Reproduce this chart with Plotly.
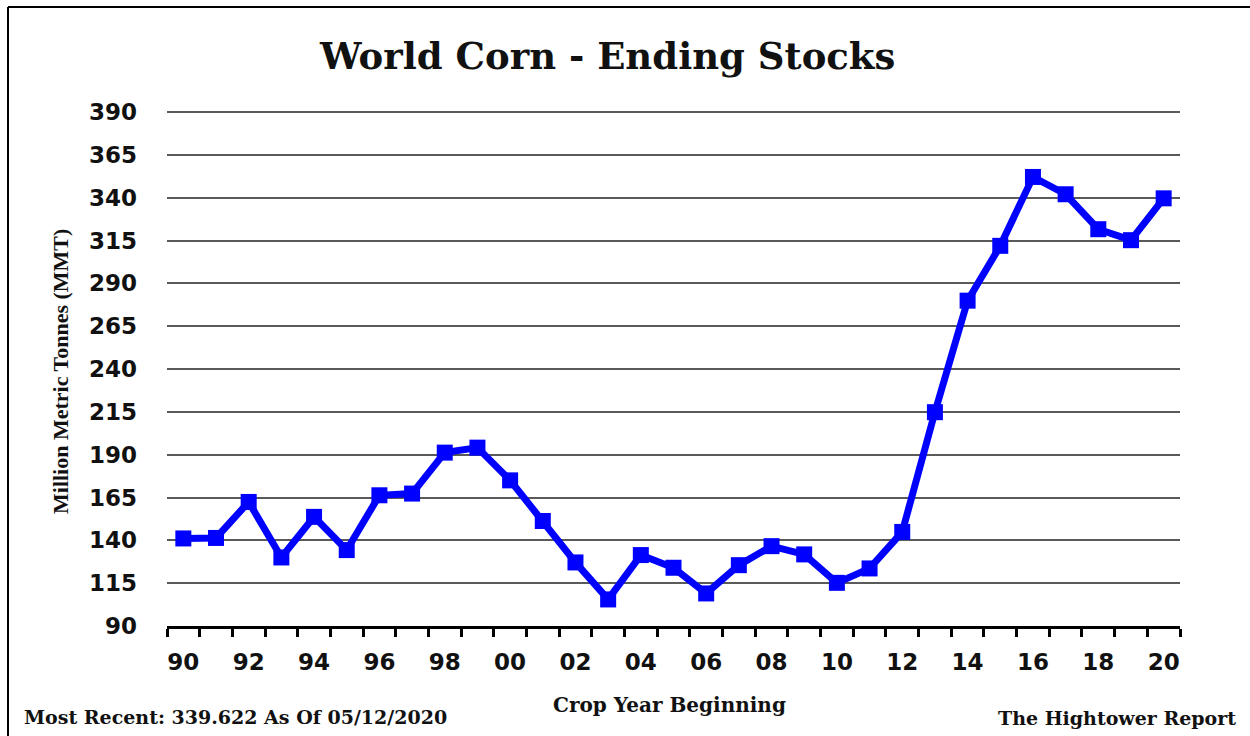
import plotly.graph_objects as go

years = list(range(1990, 2021))
stocks = [141.1, 141.4, 162.4, 130.0, 153.7, 134.3, 166.3, 167.3, 191.2, 194.1,
          175.0, 151.3, 127.1, 105.5, 131.4, 124.0, 109.0, 125.5, 136.6, 131.8,
          115.2, 123.6, 144.9, 214.8, 279.9, 311.9, 352.1, 342.0, 321.6, 315.2,
          339.622]
y_ticks = list(range(90, 391, 25))
x_tickvals = list(range(1990, 2021, 2))
x_ticktext = [f"{y % 100:02d}" for y in x_tickvals]
boundaries = [y - 0.5 for y in years] + [years[-1] + 0.5]

# pixel -> paper helpers (plot area: x 167..1180, y 111..626)
L, R, T, B = 167, 1180, 111, 626
def px(x):
    return (x - L) / (R - L)
def py(y):
    return (B - y) / (B - T)

fig = go.Figure()
fig.add_trace(go.Scatter(
    x=years, y=stocks, mode="lines+markers",
    line=dict(color="#0000FF", width=7),
    marker=dict(symbol="square", size=16, color="#0000FF"),
    cliponaxis=False, showlegend=False,
))

fig.update_layout(
    width=1250, height=736,
    margin=dict(l=L, r=1250 - R, t=T, b=736 - B, pad=0),
    paper_bgcolor="white", plot_bgcolor="white",
    xaxis=dict(
        range=[1989.5, 2020.5], tickmode="array", tickvals=x_tickvals,
        ticktext=x_ticktext, ticks="", showgrid=False, zeroline=False,
        showline=True, linecolor="black", linewidth=3,
        tickfont=dict(family="DejaVu Sans", size=23, color="#111", weight="bold"),
        ticklabelstandoff=13,
        minor=dict(tickmode="array", tickvals=boundaries, ticks="outside",
                   ticklen=8, tickwidth=2.5, tickcolor="black", showgrid=False),
    ),
    yaxis=dict(
        range=[90, 390.6], tickmode="array", tickvals=y_ticks, ticks="",
        showgrid=True, gridcolor="#5a5a5a", gridwidth=1.5, zeroline=False,
        showline=False,
        tickfont=dict(family="DejaVu Sans", size=23, color="#111", weight="bold"),
        ticklabelstandoff=29,
    ),
    font=dict(family="DejaVu Serif"),
)

ann_common = dict(xref="paper", yref="paper", showarrow=False)
fig.add_annotation(text="<b>World Corn - Ending Stocks</b>", x=px(607), y=py(56),
                   xanchor="center", yanchor="middle",
                   font=dict(family="DejaVu Serif", size=37, color="#111"), **ann_common)
fig.add_annotation(text="<b>Million Metric Tonnes (MMT)</b>", x=px(60), y=py(372),
                   xanchor="center", yanchor="middle", textangle=-90,
                   font=dict(family="Liberation Serif", size=22, color="#111"), **ann_common)
fig.add_annotation(text="<b>Crop Year Beginning</b>", x=px(669), y=py(705),
                   xanchor="center", yanchor="middle",
                   font=dict(family="DejaVu Serif", size=20, color="#111"), **ann_common)
fig.add_annotation(text="<b>Most Recent: 339.622 As Of 05/12/2020</b>", x=px(22), y=py(717),
                   xanchor="left", yanchor="middle",
                   font=dict(family="DejaVu Serif", size=19, color="#111"), **ann_common)
fig.add_annotation(text="<b>The Hightower Report</b>", x=px(1238), y=py(718),
                   xanchor="right", yanchor="middle",
                   font=dict(family="DejaVu Serif", size=19, color="#111"), **ann_common)

# chart frame (top and left edges)
fig.add_shape(type="line", xref="paper", yref="paper", x0=px(8), x1=px(1260),
              y0=py(7), y1=py(7), line=dict(color="black", width=2))
fig.add_shape(type="line", xref="paper", yref="paper", x0=px(8), x1=px(8),
              y0=py(7), y1=py(760), line=dict(color="black", width=2))

fig.write_html("out.html")
